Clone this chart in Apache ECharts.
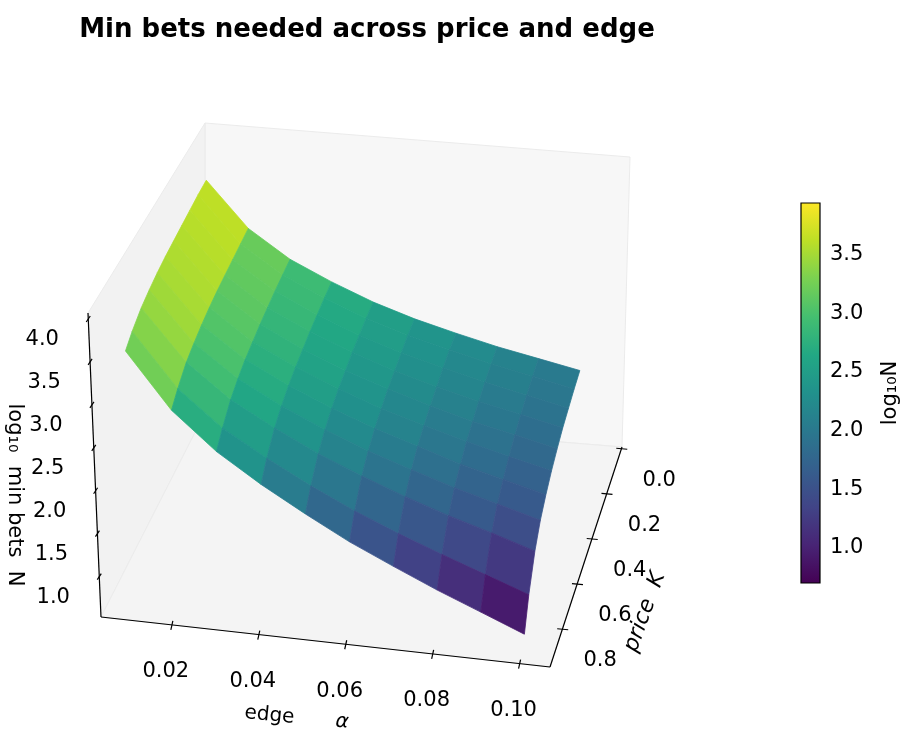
<!DOCTYPE html>
<html><head><meta charset="utf-8">
<script src="https://cdn.jsdelivr.net/npm/echarts@6/dist/echarts.min.js"></script>
<style>html,body{margin:0;padding:0;background:#fff}#c{width:921px;height:755px}</style>
</head><body><div id="c"></div>
<script>
// ---- data ----
const edgeAlpha = [0.01,0.02,0.03,0.04,0.05,0.06,0.07,0.08,0.09,0.10];
const priceK = [0.20,0.27,0.34,0.41,0.48,0.55,0.62,0.69,0.76,0.84,0.90];
const log10N = [
 [3.90,3.89,3.87,3.85,3.83,3.81,3.78,3.74,3.69,3.60,3.51],
 [3.36,3.34,3.32,3.30,3.28,3.25,3.21,3.16,3.10,2.98,2.87],
 [3.03,3.01,2.99,2.96,2.93,2.89,2.85,2.79,2.71,2.57,2.44],
 [2.80,2.78,2.75,2.72,2.68,2.64,2.59,2.52,2.43,2.27,2.11],
 [2.60,2.58,2.55,2.52,2.47,2.43,2.37,2.29,2.18,2.00,1.82],
 [2.44,2.42,2.38,2.34,2.30,2.24,2.18,2.09,1.97,1.76,1.55],
 [2.31,2.29,2.25,2.20,2.15,2.09,2.02,1.92,1.78,1.55,1.32],
 [2.19,2.16,2.12,2.07,2.01,1.95,1.86,1.76,1.61,1.36,1.10],
 [2.09,2.06,2.01,1.96,1.90,1.82,1.73,1.62,1.46,1.18,0.90],
 [1.99,1.95,1.90,1.85,1.78,1.70,1.60,1.48,1.30,1.00,0.70]
];
const alphaTicks = [0.02,0.04,0.06,0.08,0.10];
const kTicks = [0.0,0.2,0.4,0.6,0.8];
const zTicks = [1.0,1.5,2.0,2.5,3.0,3.5,4.0];
const cbTicks = [1.0,1.5,2.0,2.5,3.0,3.5];
const cbMin = 0.70, cbMax = 3.94;

// ---- 3D box view (screen corners of the axes box) ----
const aR=[0.0037,0.107], kR=[-0.01,0.965], zR=[0.53,4.07];
const C = {
 '000':[205,413],'100':[622,447],'010':[101,617],'110':[550,667],
 '001':[205,123],'101':[630,157],'011':[88,313],'111':[547,357]};
function P(a,k,z){
  const u=(a-aR[0])/(aR[1]-aR[0]), v=(k-kR[0])/(kR[1]-kR[0]), w=(z-zR[0])/(zR[1]-zR[0]);
  let x=0,y=0;
  for(const s of ['000','100','010','110','001','101','011','111']){
    const f=(s[0]==='1'?u:1-u)*(s[1]==='1'?v:1-v)*(s[2]==='1'?w:1-w);
    x+=f*C[s][0]; y+=f*C[s][1];
  }
  return [x,y];
}
const vir=['#440154','#482475','#414487','#355f8d','#2a788e','#21918c','#22a884','#44bf70','#7ad151','#bddf26','#fde725'];
function hex(h){return [1,3,5].map(i=>parseInt(h.substr(i,2),16));}
function viridis(t){
  t=Math.max(0,Math.min(1,t)); const p=t*(vir.length-1), i=Math.min(Math.floor(p),vir.length-2), f=p-i;
  const a=hex(vir[i]), b=hex(vir[i+1]);
  return 'rgb('+a.map((x,j)=>Math.round(x+(b[j]-x)*f)).join(',')+')';
}
const quads=[];
for(let i=0;i<edgeAlpha.length-1;i++) for(let j=0;j<priceK.length-1;j++) quads.push([i,j]);
quads.sort((p,q)=>(p[0]+p[1])-(q[0]+q[1]));

const chart=echarts.init(document.getElementById('c'),null,{renderer:'canvas'});
const font='DejaVu Sans';

const panesSeries={type:'custom',xAxisIndex:0,yAxisIndex:0,silent:true,data:[0],z:1,
 renderItem(params,api){
  const b=(a,k,z)=>api.coord(P(a,k,z));
  const A0=aR[0],A1=aR[1],K0=kR[0],K1=kR[1],Z0=zR[0],Z1=zR[1];
  const style=(f)=>({fill:f,stroke:'#ebebeb',lineWidth:1});
  return {type:'group',children:[
   {type:'polygon',shape:{points:[b(A0,K0,Z0),b(A1,K0,Z0),b(A1,K0,Z1),b(A0,K0,Z1)]},style:style('#f7f7f7')},
   {type:'polygon',shape:{points:[b(A0,K0,Z0),b(A0,K1,Z0),b(A0,K1,Z1),b(A0,K0,Z1)]},style:style('#f2f2f2')},
   {type:'polygon',shape:{points:[b(A0,K0,Z0),b(A1,K0,Z0),b(A1,K1,Z0),b(A0,K1,Z0)]},style:style('#f4f4f4')}
  ]};
 }};

const surfSeries={type:'custom',xAxisIndex:0,yAxisIndex:0,silent:true,data:quads,z:2,
 renderItem(params,api){
  const q=quads[params.dataIndex], i=q[0], j=q[1];
  const cs=[[i,j],[i+1,j],[i+1,j+1],[i,j+1]];
  const pts=cs.map(c=>api.coord(P(edgeAlpha[c[0]],priceK[c[1]],log10N[c[0]][c[1]])));
  const zm=cs.reduce((s,c)=>s+log10N[c[0]][c[1]],0)/4;
  const col=viridis((zm-cbMin)/(cbMax-cbMin));
  return {type:'polygon',shape:{points:pts},style:{fill:col,stroke:col,lineWidth:0.8}};
 }};

const axesSeries={type:'custom',xAxisIndex:0,yAxisIndex:0,silent:true,data:[0],z:3,
 renderItem(params,api){
  const b=(a,k,z)=>api.coord(P(a,k,z));
  const A0=aR[0],A1=aR[1],K0=kR[0],K1=kR[1],Z0=zR[0],Z1=zR[1];
  const ln=(p,q)=>({type:'line',shape:{x1:p[0],y1:p[1],x2:q[0],y2:q[1]},style:{stroke:'#000',lineWidth:1.2}});
  const txt=(p,s,dx,dy)=>({type:'text',x:p[0]+dx,y:p[1]+dy,style:{text:s,font:'21px '+font,fill:'#000',align:'center',verticalAlign:'middle'}});
  const ch=[ln(b(A0,K1,Z0),b(A1,K1,Z0)),ln(b(A1,K0,Z0),b(A1,K1,Z0)),ln(b(A0,K1,Z0),b(A0,K1,Z1))];
  alphaTicks.forEach(t=>{const p=b(t,K1,Z0);ch.push(ln([p[0]+1,p[1]-4],[p[0]-1,p[1]+5]));ch.push(txt(p,t.toFixed(2),-6,47));});
  kTicks.forEach(t=>{const p=b(A1,t,Z0);ch.push(ln([p[0]-5,p[1]-1],[p[0]+6,p[1]]));ch.push(txt(p,t.toFixed(1),38,31));});
  zTicks.forEach(t=>{const p=b(A0,K1,t);ch.push(ln([p[0]-2,p[1]+3],[p[0]+2,p[1]-3]));ch.push(txt(p,t.toFixed(1),-46,21));});
  return {type:'group',children:ch};
 }};

const cbSeries={type:'custom',xAxisIndex:1,yAxisIndex:1,silent:true,data:[0],z:2,
 renderItem(params,api){
  const p0=api.coord([0,cbMax]), p1=api.coord([1,cbMin]);
  return {type:'rect',shape:{x:p0[0],y:p0[1],width:p1[0]-p0[0],height:p1[1]-p0[1]},
   style:{fill:new echarts.graphic.LinearGradient(0,1,0,0,vir.map((c,i)=>({offset:i/(vir.length-1),color:c}))),stroke:'#000',lineWidth:1.2}};
 }};

chart.setOption({
 animation:false,
 title:{text:'Min bets needed across price and edge',left:362,top:12,textAlign:'center',
   textStyle:{fontFamily:font,fontSize:26,fontWeight:'bold',color:'#000'}},
 grid:[{left:0,top:0,width:921,height:755,show:false},{left:801,top:203,width:19,height:380}],
 xAxis:[{type:'value',min:0,max:921,show:false,gridIndex:0},{type:'value',min:0,max:1,show:false,gridIndex:1}],
 yAxis:[{type:'value',min:0,max:755,inverse:true,show:false,gridIndex:0},
  {type:'value',gridIndex:1,min:cbMin,max:cbMax,position:'right',splitLine:{show:false},
   axisLine:{show:false},
   axisTick:{show:true,length:5,lineStyle:{color:'#000'},customValues:cbTicks},
   axisLabel:{color:'#000',fontFamily:font,fontSize:21,margin:10,customValues:cbTicks,formatter:v=>v.toFixed(1)}}],
 series:[panesSeries,surfSeries,axesSeries,cbSeries],
 graphic:[
  {type:'text',x:307,y:719,rotation:-0.1,style:{text:'edge  ',font:'20px '+font,fill:'#000',align:'right',verticalAlign:'middle'}},
  {type:'text',x:342,y:722,rotation:-0.1,style:{text:'α',font:'italic 20px '+font,fill:'#000',align:'center',verticalAlign:'middle'}},
  {type:'text',x:645,y:612,rotation:1.22,style:{text:'price  K',font:'italic 22px '+font,fill:'#000',align:'center',verticalAlign:'middle'}},
  {type:'text',x:14,y:495,rotation:-Math.PI/2,style:{text:'log₁₀  min bets  N',font:'21px '+font,fill:'#000',align:'center',verticalAlign:'middle'}},
  {type:'text',x:891,y:393,rotation:Math.PI/2,style:{text:'log₁₀N',font:'21px '+font,fill:'#000',align:'center',verticalAlign:'middle'}}
 ]
});
</script></body></html>
